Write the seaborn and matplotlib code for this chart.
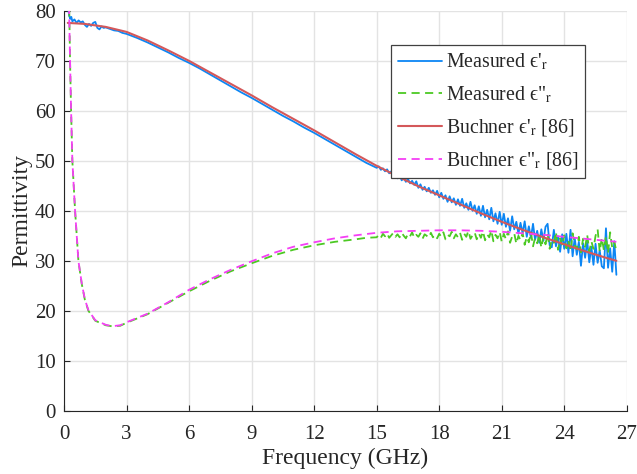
import numpy as np
import pandas as pd
import matplotlib
matplotlib.use("Agg")
import matplotlib.pyplot as plt
import seaborn as sns

# ---------------- data ----------------
# Buchner model eps' (smooth)
buch_re_f = [0.18, 1, 2, 3, 4, 5, 6, 7, 8, 9, 10, 11, 12, 13, 14, 15, 16, 17, 18,
             19, 20, 21, 22, 23, 24, 25, 26, 26.5]
buch_re_v = [77.6, 77.4, 76.8, 75.8, 74.1, 72.1, 70.0, 67.7, 65.4, 63.1, 60.7, 58.4,
             56.1, 53.7, 51.3, 49.0, 46.9, 44.9, 43.1, 41.3, 39.5, 37.8, 36.2, 34.7,
             33.3, 31.9, 30.6, 30.0]

# Buchner model eps'' (smooth)
buch_im_f = [0.24, 0.29, 0.34, 0.40, 0.53, 0.69, 0.85, 1.0, 1.17, 1.5, 2.0, 2.3, 2.7,
             3.0, 4.0, 5.0, 6.0, 7.0, 8.0, 9.0, 10.0, 11.0, 12.0, 13.0, 14.0, 15.0,
             16.0, 17.0, 18.0, 19.0, 20.0, 21.0, 22.0, 23.0, 24.0, 25.0, 26.0, 26.5]
buch_im_v = [81.0, 70.0, 60.0, 50.0, 40.0, 30.0, 25.5, 22.3, 20.1, 18.1, 17.2, 16.9,
             17.1, 17.7, 19.4, 21.7, 24.2, 26.3, 28.2, 29.9, 31.5, 32.8, 33.7, 34.5,
             35.1, 35.6, 35.9, 36.0, 36.1, 36.1, 36.0, 35.8, 35.5, 35.2, 34.8, 34.4,
             34.0, 33.8]

# Measured eps' : low / mid band
meas_re_f_lo = [0.20, 0.25, 0.30, 0.35, 0.40, 0.5, 0.6, 0.7, 0.8, 0.9, 1.0, 1.1, 1.2,
                1.3, 1.4, 1.5, 1.6, 1.7, 1.8, 1.9, 2.0, 2.2, 2.4, 2.6, 2.8, 3.0, 3.5,
                4.0, 4.5, 5.0, 5.5, 6.0, 6.5, 7.0, 7.5, 8.0, 8.5, 9.0, 9.5, 10.0, 10.5,
                11.0, 11.5, 12.0, 12.5, 13.0, 13.5, 14.0, 14.5]
meas_re_v_lo = [80.4, 79.0, 78.4, 78.8, 77.9, 78.3, 77.6, 78.1, 77.7, 77.9, 77.2, 76.8,
                77.4, 77.0, 77.6, 77.8, 76.6, 76.3, 76.9, 76.6, 76.7, 76.4, 76.1, 76.0,
                75.6, 75.4, 74.6, 73.7, 72.7, 71.7, 70.6, 69.6, 68.5, 67.3, 66.1, 64.9,
                63.7, 62.6, 61.4, 60.2, 59.0, 57.9, 56.7, 55.6, 54.4, 53.2, 52.0, 50.8,
                49.6]
# Measured eps' : noisy high band, 15.0 ... 26.5 GHz in 0.1 GHz steps
meas_re_v_hi = [48.6, 48.9, 48.2, 48.5, 47.9, 48.3, 47.5, 47.9, 47.2, 47.6,
                46.5, 47.2, 46.1, 46.6, 45.8, 46.4, 45.5, 46.0, 45.2, 45.9,
                44.6, 45.3, 44.2, 44.8, 43.9, 44.6, 43.6, 44.1, 43.2, 44.0,
                42.7, 43.6, 42.4, 43.1, 41.8, 42.9, 41.7, 42.5, 41.2, 42.3,
                41.0, 42.4, 40.6, 41.5, 40.2, 41.8, 40.0, 41.1, 39.4, 40.9,
                39.0, 41.0, 38.7, 40.2, 38.3, 40.6, 37.9, 39.5, 37.4, 39.8,
                37.2, 39.4, 36.8, 38.5, 36.0, 38.9, 36.3, 37.8, 35.4, 37.6,
                35.5, 37.9, 34.8, 36.9, 34.6, 37.4, 34.2, 36.0, 33.6, 36.3,
                34.0, 36.8, 37.4, 33.1, 32.7, 36.2, 32.9, 34.9, 31.8, 35.3,
                32.4, 35.4, 31.6, 36.2, 30.9, 34.6, 31.2, 33.8, 29.0, 33.5,
                30.6, 34.0, 29.7, 32.8, 29.2, 33.4, 29.6, 32.1, 28.9, 28.5,
                36.5, 28.6, 32.5, 27.8, 33.9, 27.2]

# Measured eps'' : low / mid band
meas_im_f_lo = [0.25, 0.29, 0.34, 0.40, 0.53, 0.69, 0.85, 1.0, 1.17, 1.5, 2.0, 2.3, 2.7,
                3.0, 4.0, 5.0, 6.0, 7.0, 8.0, 9.0, 10.0, 11.0, 12.0, 13.0, 14.0, 14.5]
meas_im_v_lo = [80.5, 69.8, 59.9, 50.0, 40.1, 30.0, 25.4, 22.2, 20.0, 18.0, 17.1, 16.9,
                17.0, 17.6, 19.3, 21.6, 23.9, 26.0, 27.9, 29.5, 31.0, 32.2, 33.1, 33.8,
                34.3, 34.6]
# Measured eps'' : noisy high band, 15.0 ... 26.5 GHz in 0.1 GHz steps
meas_im_v_hi = [34.7, 35.2, 34.6, 35.4, 34.9, 35.5, 34.6, 35.1, 35.6, 34.8,
                35.3, 34.7, 35.6, 35.0, 34.5, 35.4, 34.9, 35.7, 34.6, 35.2,
                34.8, 35.5, 34.4, 35.3, 35.0, 34.6, 35.6, 34.7, 35.2, 34.5,
                35.4, 34.8, 35.7, 34.3, 35.2, 34.9, 35.8, 34.5, 35.3, 34.7,
                35.6, 34.2, 35.4, 34.8, 36.0, 34.4, 35.1, 35.7, 34.3, 35.5,
                34.6, 35.9, 34.1, 35.3, 34.7, 36.1, 33.9, 35.2, 34.5, 35.8,
                33.8, 35.4, 34.3, 35.9, 33.6, 34.9, 35.5, 33.4, 35.0, 34.1,
                35.6, 33.2, 34.8, 33.7, 35.7, 32.9, 34.6, 33.5, 35.2, 32.6,
                34.9, 33.3, 35.4, 32.4, 34.2, 33.6, 35.8, 32.2, 34.5, 33.0,
                35.1, 32.5, 34.0, 31.9, 35.5, 33.1, 32.3, 34.8, 31.7, 34.4,
                32.8, 35.2, 31.9, 33.9, 32.4, 35.0, 36.3, 31.8, 34.6, 32.1,
                34.9, 31.5, 35.7, 32.6, 33.8, 31.9]

hi_f = [round(15.0 + 0.1 * i, 1) for i in range(116)]

x_ticks = [0, 3, 6, 9, 12, 15, 18, 21, 24, 27]
y_ticks = [0, 10, 20, 30, 40, 50, 60, 70, 80]

labels = ["Measured \u03f5'$_\\mathrm{r}$",
          'Measured \u03f5"$_\\mathrm{r}$',
          "Buchner \u03f5'$_\\mathrm{r}$ [86]",
          'Buchner \u03f5"$_\\mathrm{r}$ [86]']
colors = ["#0c86f4", "#4cc923", "#d4585a", "#f53ff5"]

# ---------------- build frames ----------------
df_meas_re = pd.DataFrame({"f": meas_re_f_lo + hi_f, "v": meas_re_v_lo + meas_re_v_hi})
df_meas_im = pd.DataFrame({"f": meas_im_f_lo + hi_f, "v": meas_im_v_lo + meas_im_v_hi})
df_buch_re = pd.DataFrame({"f": buch_re_f, "v": buch_re_v})
df_buch_im = pd.DataFrame({"f": buch_im_f, "v": buch_im_v})

# ---------------- style ----------------
sns.set_style("ticks")
plt.rcParams["font.family"] = ["Liberation Serif", "DejaVu Serif"]
plt.rcParams["mathtext.fontset"] = "stix"

fig = plt.figure(figsize=(6.37, 4.74), dpi=100)
ax = fig.add_axes([0.1005, 0.1335, 0.8835, 0.8435])

dash = (0, (4.5, 3))
sns.lineplot(data=df_meas_re, x="f", y="v", ax=ax, color=colors[0], lw=1.3,
             estimator=None, sort=False, label=labels[0])
sns.lineplot(data=df_meas_im, x="f", y="v", ax=ax, color=colors[1], lw=1.3,
             estimator=None, sort=False, label=labels[1])
ax.lines[-1].set_linestyle(dash)
sns.lineplot(data=df_buch_re, x="f", y="v", ax=ax, color=colors[2], lw=1.5,
             estimator=None, sort=False, label=labels[2])
sns.lineplot(data=df_buch_im, x="f", y="v", ax=ax, color=colors[3], lw=1.3,
             estimator=None, sort=False, label=labels[3])
ax.lines[-1].set_linestyle(dash)

ax.set_xlim(0, 27)
ax.set_ylim(0, 80)
ax.set_xticks(x_ticks)
ax.set_yticks(y_ticks)
ax.tick_params(direction="in", length=4, width=0.8, colors="#262626",
               labelsize=15, labelcolor="#262626", pad=6)
ax.tick_params(axis="x", pad=10)
ax.grid(True, color="#e3e3e3", lw=1.0)
ax.set_axisbelow(True)
for s in ["top", "right"]:
    ax.spines[s].set_visible(False)
for s in ["left", "bottom"]:
    ax.spines[s].set_color("#262626")
    ax.spines[s].set_linewidth(0.8)

ax.set_xlabel("Frequency (GHz)", fontsize=17, color="#262626", labelpad=3)
ax.set_ylabel("Permittivity", fontsize=17, color="#262626", labelpad=1.5)

handles, labs = ax.get_legend_handles_labels()
handles[1].set_linestyle(dash)
handles[3].set_linestyle(dash)
leg = ax.legend(handles, labs, loc="upper left", bbox_to_anchor=(0.581, 0.915),
                borderaxespad=0, fontsize=14.3, frameon=True, fancybox=False,
                framealpha=1, edgecolor="#404040", handlelength=2.2,
                handletextpad=0.2, labelspacing=0.6, borderpad=0.35)
leg.get_frame().set_linewidth(0.9)

fig.savefig("out.png", dpi=100)
